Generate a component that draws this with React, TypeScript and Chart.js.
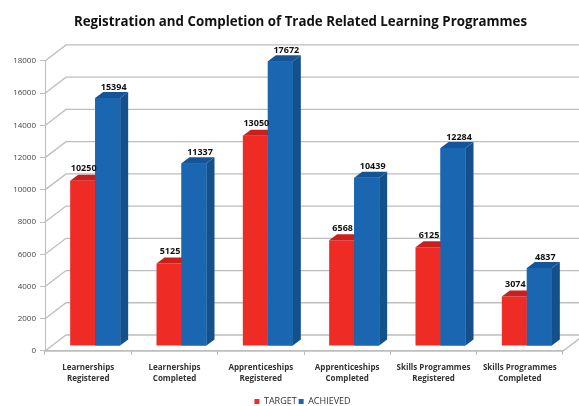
import React, { useEffect, useRef } from "react";
import { Chart, registerables } from "chart.js";

Chart.register(...registerables);

const categories = [
  ["Learnerships", "Registered"],
  ["Learnerships", "Completed"],
  ["Apprenticeships", "Registered"],
  ["Apprenticeships", "Completed"],
  ["Skills Programmes", "Registered"],
  ["Skills Programmes", "Completed"],
];
const target = [10250, 5125, 13050, 6568, 6125, 3074];
const achieved = [15394, 11337, 17672, 10439, 12284, 4837];

const FONT = '"Open Sans", "Noto Sans", sans-serif';
const RED = "#EE2B25";
const BLUE = "#1B66B0";
const SHIFT_X = 7;
const SHIFT_Y = -5;
const DEPTH_X = 8;
const DEPTH_Y = 6;
const WALL_X = 21;
const WALL_Y = 16;

const sideColours = ["#A81B18", "#14508C"];
const topColours = ["#C9201C", "#14559A"];
const labelDx = [1, 6];
const labelDy = [-12, -11];

const walls = {
  id: "walls",
  afterLayout(chart: any) {
    chart.legend.left += 42;
    chart.legend.top += 10;
    chart.legend.bottom += 10;
    chart.titleBlock.left += 38;
  },
  beforeDatasetsDraw(chart: any) {
    const { ctx, chartArea, scales } = chart;
    const { left, right, bottom } = chartArea;
    ctx.save();
    ctx.strokeStyle = "#BDBDBD";
    ctx.lineWidth = 1.3;
    scales.y.ticks.forEach((t: any) => {
      const y = scales.y.getPixelForValue(t.value);
      ctx.beginPath();
      ctx.moveTo(left, y);
      ctx.lineTo(left + WALL_X, y - WALL_Y);
      ctx.lineTo(chart.width, y - WALL_Y);
      ctx.stroke();
    });
    ctx.beginPath();
    ctx.moveTo(left, bottom);
    ctx.lineTo(right, bottom);
    ctx.lineTo(right + WALL_X, bottom - WALL_Y);
    ctx.stroke();
    ctx.restore();
    // bars stand on the floor, a little behind the front edge
    ctx.save();
    ctx.translate(SHIFT_X, SHIFT_Y);
  },
  afterDatasetsDraw(chart: any) {
    const { ctx } = chart;
    [0, 1].forEach((di) => {
      chart.getDatasetMeta(di).data.forEach((bar: any) => {
        const { x, y, base, width } = bar.getProps(["x", "y", "base", "width"], true);
        const r = x + width / 2;
        const l = x - width / 2;
        ctx.fillStyle = sideColours[di];
        ctx.beginPath();
        ctx.moveTo(r, y);
        ctx.lineTo(r + DEPTH_X, y - DEPTH_Y);
        ctx.lineTo(r + DEPTH_X, base - DEPTH_Y);
        ctx.lineTo(r, base);
        ctx.closePath();
        ctx.fill();
        ctx.fillStyle = topColours[di];
        ctx.beginPath();
        ctx.moveTo(l, y);
        ctx.lineTo(l + DEPTH_X, y - DEPTH_Y);
        ctx.lineTo(r + DEPTH_X, y - DEPTH_Y);
        ctx.lineTo(r, y);
        ctx.closePath();
        ctx.fill();
      });
    });
    // blue fronts sit over the red sides
    chart.getDatasetMeta(1).data.forEach((bar: any) => bar.draw(ctx));
    ctx.fillStyle = "#111";
    ctx.font = `bold 9px ${FONT}`;
    ctx.textAlign = "center";
    ctx.textBaseline = "middle";
    [0, 1].forEach((di) => {
      const values = chart.data.datasets[di].data;
      chart.getDatasetMeta(di).data.forEach((bar: any, i: number) => {
        ctx.fillText(String(values[i]), bar.x + labelDx[di], bar.y + labelDy[di]);
      });
    });
    ctx.restore();
  },
};

export default function App() {
  const ref = useRef<HTMLCanvasElement>(null);
  useEffect(() => {
    const chart = new Chart(ref.current!, {
      type: "bar",
      data: {
        labels: categories,
        datasets: [
          { label: "TARGET", data: target, backgroundColor: RED, barPercentage: 1, categoryPercentage: 50 / 86.33 },
          { label: "ACHIEVED", data: achieved, backgroundColor: BLUE, barPercentage: 1, categoryPercentage: 50 / 86.33 },
        ],
      },
      options: {
        animation: false,
        responsive: false,
        layout: { padding: { left: 0, right: 16, top: 0, bottom: 0 } },
        plugins: {
          tooltip: { enabled: false },
          title: {
            display: true,
            text: "Registration and Completion of Trade Related Learning Programmes",
            color: "#111",
            font: { family: FONT, size: 13.3, weight: "bold" },
            padding: { top: 14, bottom: 31 },
          },
          legend: {
            position: "bottom",
            labels: {
              boxWidth: 5,
              boxHeight: 5,
              padding: 2,
              color: "#333",
              font: { family: FONT, size: 9 },
            },
          },
        },
        scales: {
          x: {
            afterFit(s: any) {
              s.height = 34;
            },
            grid: { drawOnChartArea: false, color: "#BDBDBD", tickLength: 4, offset: true },
            border: { color: "#BDBDBD" },
            ticks: {
              color: "#333",
              font: { family: FONT, size: 8, weight: "bold", lineHeight: 1.4 },
              maxRotation: 0,
              autoSkip: false,
              padding: 7,
            },
          },
          y: {
            min: 0,
            max: 18000,
            afterFit(s: any) {
              s.width = 45;
            },
            grid: { drawOnChartArea: false, color: "#BDBDBD", tickLength: 5 },
            border: { color: "#BDBDBD" },
            ticks: {
              stepSize: 2000,
              color: "#444",
              font: { family: FONT, size: 8 },
              padding: 4,
              callback: (v: any) => String(v),
            },
          },
        },
      },
      plugins: [walls],
    } as any);
    return () => chart.destroy();
  }, []);
  return (
    <div style={{ position: "fixed", left: 0, top: 0, width: 579, height: 406, background: "#fff" }}>
      <canvas ref={ref} width={579} height={406} style={{ display: "block", filter: "blur(0.35px)" }} />
    </div>
  );
}
